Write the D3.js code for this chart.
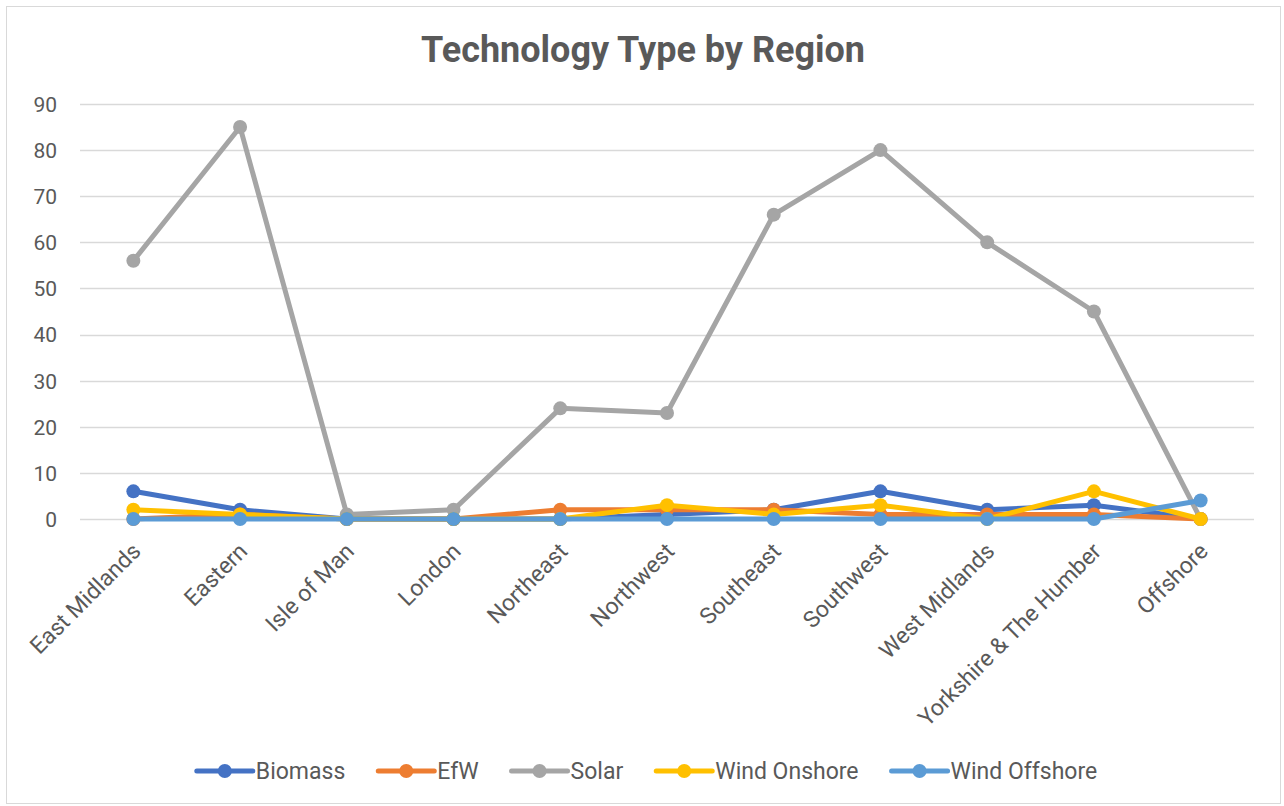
<!DOCTYPE html>
<html>
<head>
<meta charset="utf-8">
<script src="https://cdn.jsdelivr.net/npm/d3@7"></script>
<style>
  html, body { margin: 0; padding: 0; background: #fff; }
  svg { display: block; }
</style>
</head>
<body>
<svg id="chart" width="1284" height="806"></svg>
<script>
// Regions along the category axis
const regions = ["East Midlands", "Eastern", "Isle of Man", "London", "Northeast", "Northwest",
  "Southeast", "Southwest", "West Midlands", "Yorkshire & The Humber", "Offshore"];

// Project counts per technology, one value per region
const biomass      = [6, 2, 0, 0, 0, 1, 2, 6, 2, 3, 0];
const efw          = [0, 1, 0, 0, 2, 2, 2, 1, 1, 1, 0];
const solar        = [56, 85, 1, 2, 24, 23, 66, 80, 60, 45, 0];
const windOnshore  = [2, 1, 0, 0, 0, 3, 1, 3, 0, 6, 0];
const windOffshore = [0, 0, 0, 0, 0, 0, 0, 0, 0, 0, 4];

const yTicks = [0, 10, 20, 30, 40, 50, 60, 70, 80, 90];

const series = [
  { name: "Biomass",       values: biomass,      color: "#4472C4" },
  { name: "EfW",           values: efw,          color: "#ED7D31" },
  { name: "Solar",         values: solar,        color: "#A5A5A5" },
  { name: "Wind Onshore",  values: windOnshore,  color: "#FFC000" },
  { name: "Wind Offshore", values: windOffshore, color: "#5B9BD5" }
];

const svg = d3.select("#chart");
const W = 1284, H = 806;
const textColor = "#595959";
const font = "Roboto, 'Liberation Sans', Arial, sans-serif";

// Chart frame
svg.append("rect")
  .attr("x", 6.5).attr("y", 6.5)
  .attr("width", W - 10).attr("height", H - 9)
  .attr("fill", "#fff").attr("stroke", "#d9d9d9").attr("stroke-width", 1);

// Title
svg.append("text")
  .attr("x", 643).attr("y", 62)
  .attr("text-anchor", "middle")
  .attr("font-family", font).attr("font-weight", "bold")
  .attr("font-size", 36).attr("fill", textColor)
  .text("Technology Type by Region");

const plot = { left: 80, right: 1254, top: 104, bottom: 519 };

const x = d3.scaleBand().domain(regions).range([plot.left, plot.right]);
const y = d3.scaleLinear().domain([0, 90]).range([plot.bottom, plot.top]);
const cx = d => x(d) + x.bandwidth() / 2;

// Horizontal gridlines
svg.append("g")
  .selectAll("line").data(yTicks).join("line")
  .attr("x1", plot.left).attr("x2", plot.right)
  .attr("y1", d => Math.round(y(d)) + 0.5).attr("y2", d => Math.round(y(d)) + 0.5)
  .attr("stroke", "#d9d9d9").attr("stroke-width", 1.5);

// Value axis labels
const yAxis = d3.axisLeft(y).tickValues(yTicks).tickSize(0).tickPadding(0);
const gy = svg.append("g").attr("transform", `translate(${plot.left - 23},0)`).call(yAxis);
gy.select(".domain").remove();
gy.selectAll("text")
  .attr("font-family", font).attr("font-size", 21).attr("fill", textColor)
  .attr("dy", "0.35em");

// Category axis labels, rotated
const xAxis = d3.axisBottom(x).tickSize(0).tickPadding(0);
const gx = svg.append("g").attr("transform", `translate(0,${plot.bottom})`).call(xAxis);
gx.select(".domain").remove();
gx.selectAll("text")
  .attr("font-family", font).attr("font-size", 23).attr("fill", textColor)
  .attr("text-anchor", "end")
  .attr("y", 0)
  .attr("transform", "translate(3,28) rotate(-45)")
  .attr("dy", "0.35em");

// Lines and markers
const line = d3.line().x((d, i) => cx(regions[i])).y(d => y(d));

series.forEach(s => {
  const g = svg.append("g");
  g.append("path")
    .datum(s.values)
    .attr("d", line)
    .attr("fill", "none")
    .attr("stroke", s.color).attr("stroke-width", 5)
    .attr("stroke-linejoin", "round").attr("stroke-linecap", "round");
  g.selectAll("circle").data(s.values).join("circle")
    .attr("cx", (d, i) => cx(regions[i]))
    .attr("cy", d => y(d))
    .attr("r", 7)
    .attr("fill", s.color);
});

// Legend, centred under the plot
const legendY = 771, swatch = 56, textGap = 3, itemGap = 33;
const lg = svg.append("g");
const items = series.map(s => {
  const g = lg.append("g");
  g.append("line")
    .attr("x1", 0).attr("x2", swatch)
    .attr("y1", legendY).attr("y2", legendY)
    .attr("stroke", s.color).attr("stroke-width", 5).attr("stroke-linecap", "round");
  g.append("circle").attr("cx", swatch / 2).attr("cy", legendY).attr("r", 7).attr("fill", s.color);
  const t = g.append("text")
    .attr("x", swatch + textGap).attr("y", legendY)
    .attr("dy", "0.35em")
    .attr("font-family", font).attr("font-size", 23).attr("fill", textColor)
    .text(s.name);
  return { g, w: swatch + textGap + t.node().getComputedTextLength() };
});
const total = d3.sum(items, d => d.w) + itemGap * (items.length - 1);
let cursor = 647 - total / 2;
items.forEach(it => {
  it.g.attr("transform", `translate(${cursor},0)`);
  cursor += it.w + itemGap;
});
</script>
</body>
</html>
